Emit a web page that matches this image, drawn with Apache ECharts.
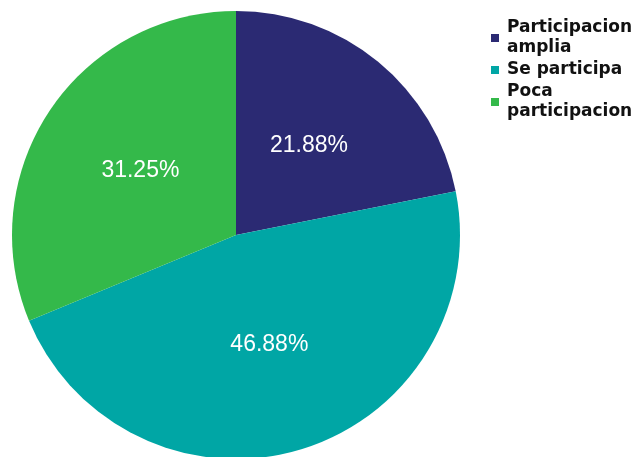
<!DOCTYPE html>
<html>
<head>
<meta charset="utf-8">
<script src="https://cdn.jsdelivr.net/npm/echarts@6/dist/echarts.min.js"></script>
<style>
  html, body { margin: 0; padding: 0; background: #ffffff; }
  #chart { width: 631px; height: 457px; }
</style>
</head>
<body>
<div id="chart"></div>
<script>
// Participation levels and their shares (%)
const categories = ['Participacion amplia', 'Se participa', 'Poca participacion'];
const shares = [21.88, 46.88, 31.25];
const colors = ['#2b2a73', '#00a6a5', '#34b94a'];

// Wrapped legend text for the two long names
const legendText = {
  'Participacion amplia': 'Participacion\namplia',
  'Se participa': 'Se participa',
  'Poca participacion': 'Poca\nparticipacion'
};

const chart = echarts.init(document.getElementById('chart'), null, { renderer: 'canvas' });

chart.setOption({
  animation: false,
  backgroundColor: '#ffffff',
  color: colors,
  legend: {
    orient: 'vertical',
    left: 486,
    top: 13,
    itemWidth: 8,
    itemHeight: 8,
    itemGap: 2,
    icon: 'rect',
    formatter: name => legendText[name],
    textStyle: {
      fontFamily: 'DejaVu Sans',
      fontWeight: 'bold',
      fontSize: 17,
      lineHeight: 20,
      color: '#111111',
      padding: [0, 0, 0, 3]
    },
    data: categories
  },
  series: [{
    type: 'pie',
    center: [236, 235],
    radius: [0, 224],
    startAngle: 90,
    clockwise: true,
    avoidLabelOverlap: false,
    label: {
      show: true,
      position: 'inside',
      formatter: p => p.value.toFixed(2) + '%',
      color: '#ffffff',
      fontFamily: 'Liberation Sans',
      fontSize: 23,
      fontWeight: 'normal'
    },
    labelLine: { show: false },
    itemStyle: { borderWidth: 0 },
    emphasis: { disabled: true },
    data: categories.map((name, i) => ({ name, value: shares[i] }))
  }]
});
</script>
</body>
</html>
